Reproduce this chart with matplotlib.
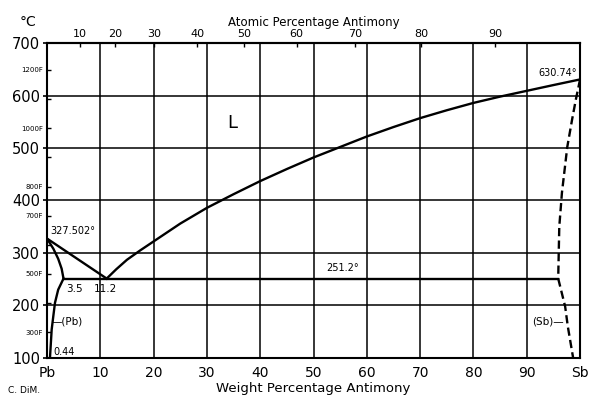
import numpy as np
import matplotlib
matplotlib.use("Agg")
import matplotlib.pyplot as plt
from matplotlib.ticker import FixedLocator

# ---- data (weight % Sb, temperature in C) ----
liq_pb_w = [0, 11.2]
liq_pb_t = [327.502, 251.2]

liq_sb_w = [11.2, 13, 15, 17.5, 20, 25, 30, 35, 40, 45, 50, 55, 60, 65, 70, 75, 80, 85, 90, 95, 100]
liq_sb_t = [251.2, 269, 287, 305, 322, 356, 386, 412, 437, 460, 482, 502, 522, 540, 557, 572, 586, 598, 609, 620, 630.74]

sol_pb_w = [0, 1.2, 2.1, 2.75, 3.1]
sol_pb_t = [327.502, 308, 289, 270, 251.2]

solv_pb_w = [3.1, 2.1, 1.5, 1.18, 0.88, 0.56]
solv_pb_t = [251.2, 230, 205, 179, 154, 100]

eut_w = [3.1, 95.9]
eut_t = [251.2, 251.2]

sol_sb_w = [100, 99.2, 98.5, 97.6, 96.6, 96.1, 95.9]
sol_sb_t = [630.74, 592, 554, 502, 415, 350, 251.2]

solv_sb_w = [95.9, 97.2, 97.7, 98.7]
solv_sb_t = [251.2, 198, 160, 100]

c_ticks = [100, 200, 300, 400, 500, 600, 700]
f_ticks = [300, 400, 500, 600, 700, 800, 900, 1000, 1100, 1200]
f_labels = ["300F", "", "500F", "", "700F", "800F", "", "1000F", "", "1200F"]
wt_ticks = [0, 10, 20, 30, 40, 50, 60, 70, 80, 90, 100]
wt_labels = ["Pb", "10", "20", "30", "40", "50", "60", "70", "80", "90", "Sb"]
at_ticks = [10, 20, 30, 40, 50, 60, 70, 80, 90]

M_PB, M_SB = 207.2, 121.76


def wt_to_at(w):
    w = np.clip(np.asarray(w, dtype=float), 1e-9, 100 - 1e-9)
    a = w / M_SB
    b = (100 - w) / M_PB
    return 100 * a / (a + b)


def at_to_wt(a):
    a = np.clip(np.asarray(a, dtype=float), 1e-9, 100 - 1e-9)
    x = a * M_SB
    y = (100 - a) * M_PB
    return 100 * x / (x + y)


plt.rcParams['font.family'] = ['DejaVu Sans']

fig = plt.figure(figsize=(5.91, 3.99), dpi=100)
ax = fig.add_axes([0.0795, 0.103, 0.902, 0.789])
ax.set_xlim(0, 100)
ax.set_ylim(100, 700)

lw = 1.7
ax.plot(liq_pb_w, liq_pb_t, color='black', lw=lw)
ax.plot(liq_sb_w, liq_sb_t, color='black', lw=lw)
ax.plot(sol_pb_w, sol_pb_t, color='black', lw=lw)
ax.plot(solv_pb_w, solv_pb_t, color='black', lw=lw)
ax.plot(eut_w, eut_t, color='black', lw=lw)
ax.plot(sol_sb_w, sol_sb_t, color='black', lw=lw, linestyle=(0, (3.5, 1.8)))
ax.plot(solv_sb_w, solv_sb_t, color='black', lw=lw, linestyle=(0, (3.5, 1.8)))

# grid
for w in wt_ticks[1:-1]:
    ax.axvline(w, color='black', lw=1.1, zorder=0)
for t in c_ticks[1:-1]:
    ax.axhline(t, color='black', lw=1.1, zorder=0)

for s in ax.spines.values():
    s.set_linewidth(1.5)

# x axis (weight %)
ax.set_xticks(wt_ticks)
ax.set_xticklabels(wt_labels)
ax.tick_params(axis='x', length=0, pad=6, labelsize=10)
ax.set_xlabel("Weight Percentage Antimony", fontsize=9.5, labelpad=1)

# y axis (C major, F minor)
ax.set_yticks(c_ticks)
ax.tick_params(axis='y', which='major', direction='out', length=3, width=1.2,
               pad=2, labelsize=10.5)
f_pos = [(f - 32) * 5 / 9 for f in f_ticks]
ax.yaxis.set_minor_locator(FixedLocator(f_pos))
ax.set_yticks(f_pos, labels=f_labels, minor=True)
ax.tick_params(axis='y', which='minor', direction='in', length=3, width=1,
               pad=3, labelsize=5)
ax.tick_params(axis='x', which='minor', length=0)

# top axis (atomic %)
sec = ax.secondary_xaxis('top', functions=(wt_to_at, at_to_wt))
sec.set_xticks(at_ticks)
sec.tick_params(direction='in', length=3, width=1, pad=3, labelsize=8)
sec.set_xlabel("Atomic Percentage Antimony", fontsize=8.5, labelpad=2)
sec.spines['top'].set_linewidth(1.5)

# annotations
ax.text(0.7, 341, "327.502°", fontsize=7, ha='left', va='center')
ax.text(5.1, 232, "3.5", fontsize=7.5, ha='center', va='center')
ax.text(11.0, 232, "11.2", fontsize=7.5, ha='center', va='center')
ax.text(55.5, 272, "251.2°", fontsize=7, ha='center', va='center')
ax.text(99.4, 643, "630.74°", fontsize=7, ha='right', va='center')
ax.text(34.7, 548, "L", fontsize=13, ha='center', va='center')
ax.text(0.8, 170, "—(Pb)", fontsize=7.5, ha='left', va='center')
ax.text(1.2, 112, "0.44", fontsize=7, ha='left', va='center')
ax.text(91.0, 170, "(Sb)—", fontsize=7.5, ha='left', va='center')

fig.text(0.034, 0.945, "°C", fontsize=10, ha='left', va='center')
fig.text(0.014, 0.022, "C. DiM.", fontsize=6.5, ha='left', va='center')

fig.savefig("out.png", dpi=100)
